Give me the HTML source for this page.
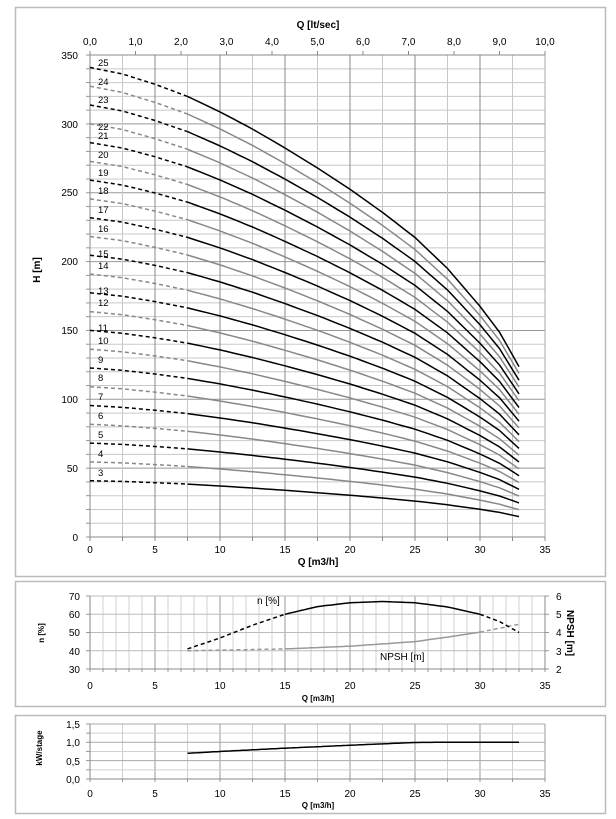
<!DOCTYPE html>
<html><head><meta charset="utf-8"><style>
html,body{margin:0;padding:0;background:#fff;overflow:hidden;}
svg{display:block;font-family:"Liberation Sans",sans-serif;}
</style></head><body>
<svg id="s" width="616" height="819" viewBox="0 0 616 819" xmlns="http://www.w3.org/2000/svg">
<rect width="616" height="819" fill="#fff"/>
<rect x="15.5" y="7.5" width="590" height="569" fill="none" stroke="#bbb" stroke-width="1.5"/>
<rect x="15.5" y="581.5" width="590" height="125" fill="none" stroke="#bbb" stroke-width="1.5"/>
<rect x="15.5" y="715.5" width="590" height="98" fill="none" stroke="#bbb" stroke-width="1.5"/>
<g id="grid"></g>
<g id="curves" fill="none"></g>
<g font-size="10" fill="#000" text-anchor="end">
<text x="78" y="59">350</text><text x="78" y="128">300</text><text x="78" y="196">250</text><text x="78" y="265">200</text><text x="78" y="334">150</text><text x="78" y="403">100</text><text x="78" y="472">50</text><text x="78" y="541">0</text>
</g>
<g font-size="10" text-anchor="middle">
<text x="90" y="553">0</text><text x="155" y="553">5</text><text x="220" y="553">10</text><text x="285" y="553">15</text><text x="350" y="553">20</text><text x="415" y="553">25</text><text x="480" y="553">30</text><text x="545" y="553">35</text>
<text x="90" y="45">0,0</text><text x="135.5" y="45">1,0</text><text x="181" y="45">2,0</text><text x="226.5" y="45">3,0</text><text x="272" y="45">4,0</text><text x="317.5" y="45">5,0</text><text x="363" y="45">6,0</text><text x="408.5" y="45">7,0</text><text x="454" y="45">8,0</text><text x="499.5" y="45">9,0</text><text x="545" y="45">10,0</text>
<text x="318" y="28" font-weight="bold" font-size="10">Q [lt/sec]</text>
<text x="318" y="565" font-weight="bold" font-size="10">Q [m3/h]</text>
<text transform="translate(40,270) rotate(-90)" font-weight="bold" font-size="10">H [m]</text>
</g>
<g font-size="9.5" fill="#000">
<text x="98" y="476">3</text><text x="98" y="457">4</text><text x="98" y="438">5</text><text x="98" y="419">6</text><text x="98" y="400">7</text><text x="98" y="381">8</text><text x="98" y="363">9</text><text x="98" y="344">10</text><text x="98" y="331">11</text><text x="98" y="306">12</text><text x="98" y="294">13</text><text x="98" y="269">14</text><text x="98" y="257">15</text><text x="98" y="232">16</text><text x="98" y="213">17</text><text x="98" y="194">18</text><text x="98" y="176">19</text><text x="98" y="158">20</text><text x="98" y="139">21</text><text x="98" y="130">22</text><text x="98" y="103">23</text><text x="98" y="85">24</text><text x="98" y="66">25</text>
</g>
<g font-size="10" text-anchor="end">
<text x="80" y="600">70</text><text x="80" y="618">60</text><text x="80" y="636">50</text><text x="80" y="655">40</text><text x="80" y="673">30</text>
</g>
<g font-size="10">
<text x="556" y="600">6</text><text x="556" y="618">5</text><text x="556" y="636">4</text><text x="556" y="655">3</text><text x="556" y="673">2</text>
<text x="257" y="604">n [%]</text><text x="380" y="660">NPSH [m]</text>
</g>
<g font-size="10" text-anchor="middle">
<text x="90" y="689">0</text><text x="155" y="689">5</text><text x="220" y="689">10</text><text x="285" y="689">15</text><text x="350" y="689">20</text><text x="415" y="689">25</text><text x="480" y="689">30</text><text x="545" y="689">35</text>
<text x="318" y="701" font-weight="bold" font-size="8">Q [m3/h]</text>
<text transform="translate(44,633) rotate(-90)" font-size="8" font-weight="bold">n [%]</text>
<text transform="translate(567,633) rotate(90)" font-size="10" font-weight="bold">NPSH [m]</text>
</g>
<g font-size="10" text-anchor="end">
<text x="80" y="728">1,5</text><text x="80" y="746">1,0</text><text x="80" y="765">0,5</text><text x="80" y="783">0,0</text>
</g>
<g font-size="10" text-anchor="middle">
<text x="90" y="797">0</text><text x="155" y="797">5</text><text x="220" y="797">10</text><text x="285" y="797">15</text><text x="350" y="797">20</text><text x="415" y="797">25</text><text x="480" y="797">30</text><text x="545" y="797">35</text>
<text x="318" y="808" font-weight="bold" font-size="8">Q [m3/h]</text>
<text transform="translate(42,748) rotate(-90)" font-size="8" font-weight="bold">kW/stage</text>
</g>
</svg>
<script>
(function(){
var NS="http://www.w3.org/2000/svg",g=document.getElementById('grid'),c=document.getElementById('curves');
function ln(p,x1,y1,x2,y2,col,w,dash){var e=document.createElementNS(NS,'line');e.setAttribute('x1',x1);e.setAttribute('y1',y1);e.setAttribute('x2',x2);e.setAttribute('y2',y2);e.setAttribute('stroke',col);e.setAttribute('stroke-width',w||1);if(dash)e.setAttribute('stroke-dasharray',dash);p.appendChild(e);}
function pa(d,col,w,dash){var e=document.createElementNS(NS,'path');e.setAttribute('d',d);e.setAttribute('stroke',col);e.setAttribute('stroke-width',w);e.setAttribute('fill','none');if(dash)e.setAttribute('stroke-dasharray',dash);c.appendChild(e);}
function X(q){return 90+q*13;}
for(var h=0;h<=350;h+=10){var y=537-h*1.377;ln(g,90,y,545,y,h%50==0?'#999':'#c8c8c8',1);ln(g,86,y,90,y,'#999',1);}
for(var q=0;q<=35;q+=2.5){ln(g,X(q),55,X(q),537,q%5==0?'#888':'#c8c8c8',1);ln(g,X(q),537,X(q),541,'#888',1);}
for(var i=0;i<=10;i++){ln(g,90+i*45.5,51,90+i*45.5,55,'#888',1);}
ln(g,90,55,545,55,'#888',1);ln(g,90,537,545,537,'#888',1);ln(g,90,55,90,537,'#888',1);ln(g,545,55,545,537,'#aaa',1);
var T=[[0,13.64],[2.5,13.45],[5,13.15],[7.5,12.8],[10,12.35],[12.5,11.85],[15,11.3],[17.5,10.72],[20,10.1],[22.5,9.43],[25,8.7],[27.5,7.8],[30,6.7],[31.5,5.95],[33,4.95]];
function hq(q){for(var i=0;i<T.length-1;i++){if(q<=T[i+1][0]){var t=(q-T[i][0])/(T[i+1][0]-T[i][0]);return T[i][1]+t*(T[i+1][1]-T[i][1]);}}return T[T.length-1][1];}
for(var n=3;n<=25;n++){var col=n%2?'#000':'#888';var d1='',d2='';
for(var q=0;q<=7.5001;q+=0.5){d1+=(q==0?'M':'L')+X(q).toFixed(1)+','+(537-n*hq(q)*1.377).toFixed(1);}
for(var q=7.5;q<=33.001;q+=0.5){d2+=(q==7.5?'M':'L')+X(q).toFixed(1)+','+(537-n*hq(q)*1.377).toFixed(1);}
pa(d1,col,1.5,'4,3');pa(d2,col,1.5);}
function Y2(v){return 669-(v-30)*1.825;}
for(var q=0;q<=35;q+=1){ln(g,X(q),596,X(q),669,q%5==0?'#999':'#d0d0d0',1);ln(g,X(q),669,X(q),672,'#999',1);}
for(var v=30;v<=70;v+=10){ln(g,90,Y2(v),545,Y2(v),'#bbb',1);ln(g,86,Y2(v),90,Y2(v),'#999',1);ln(g,545,Y2(v),549,Y2(v),'#999',1);}
ln(g,90,596,90,669,'#888',1);ln(g,545,596,545,669,'#888',1);ln(g,90,669,545,669,'#888',1);
function curve(pts,f,a,b){var d='';var k=0;for(var q=a;q<=b+0.001;q+=0.25){d+=(k++?'L':'M')+X(q).toFixed(1)+','+f(q).toFixed(1);}return d;}
function interp(P,q){for(var i=0;i<P.length-1;i++){if(q<=P[i+1][0]+1e-9){var t=(q-P[i][0])/(P[i+1][0]-P[i][0]);return P[i][1]+t*(P[i+1][1]-P[i][1]);}}return P[P.length-1][1];}
var E=[[7.5,41],[10,47],[12.5,54],[15,60],[17.5,64.2],[20,66.3],[22.5,67],[25,66.3],[27.5,64],[30,60],[31.5,56],[33,50]];
var NP=[[7.5,3],[15,3.1],[20,3.25],[25,3.5],[27.5,3.75],[30,4.02],[33,4.45]];
var fe=function(q){return Y2(interp(E,q));},fn=function(q){return Y2(30+(interp(NP,q)-2)*10);};
pa(curve(0,fn,7.5,15),'#999',1.5,'4,3');pa(curve(0,fn,15,30),'#999',1.5);pa(curve(0,fn,30,33),'#999',1.5,'4,3');
pa(curve(0,fe,7.5,15),'#000',1.5,'4,3');pa(curve(0,fe,15,30),'#000',1.5);pa(curve(0,fe,30,33),'#000',1.5,'4,3');
function Y3(v){return 779-v*36.7;}
for(var q=0;q<=35;q+=2.5){ln(g,X(q),724,X(q),779,q%5==0?'#999':'#d0d0d0',1);ln(g,X(q),779,X(q),782,'#999',1);}
for(var v=0;v<=1.5001;v+=0.25){ln(g,90,Y3(v),545,Y3(v),Math.abs(v*2-Math.round(v*2))<0.01?'#aaa':'#d0d0d0',1);ln(g,86,Y3(v),90,Y3(v),'#999',1);}
ln(g,90,724,90,779,'#888',1);ln(g,90,779,545,779,'#888',1);
var PW=[[7.5,0.7],[10,0.75],[15,0.84],[20,0.92],[25,0.995],[27,1.0],[33,1.0]];
pa(curve(0,function(q){return Y3(interp(PW,q));},7.5,33),'#000',1.5);
})();
</script>
</body></html>
